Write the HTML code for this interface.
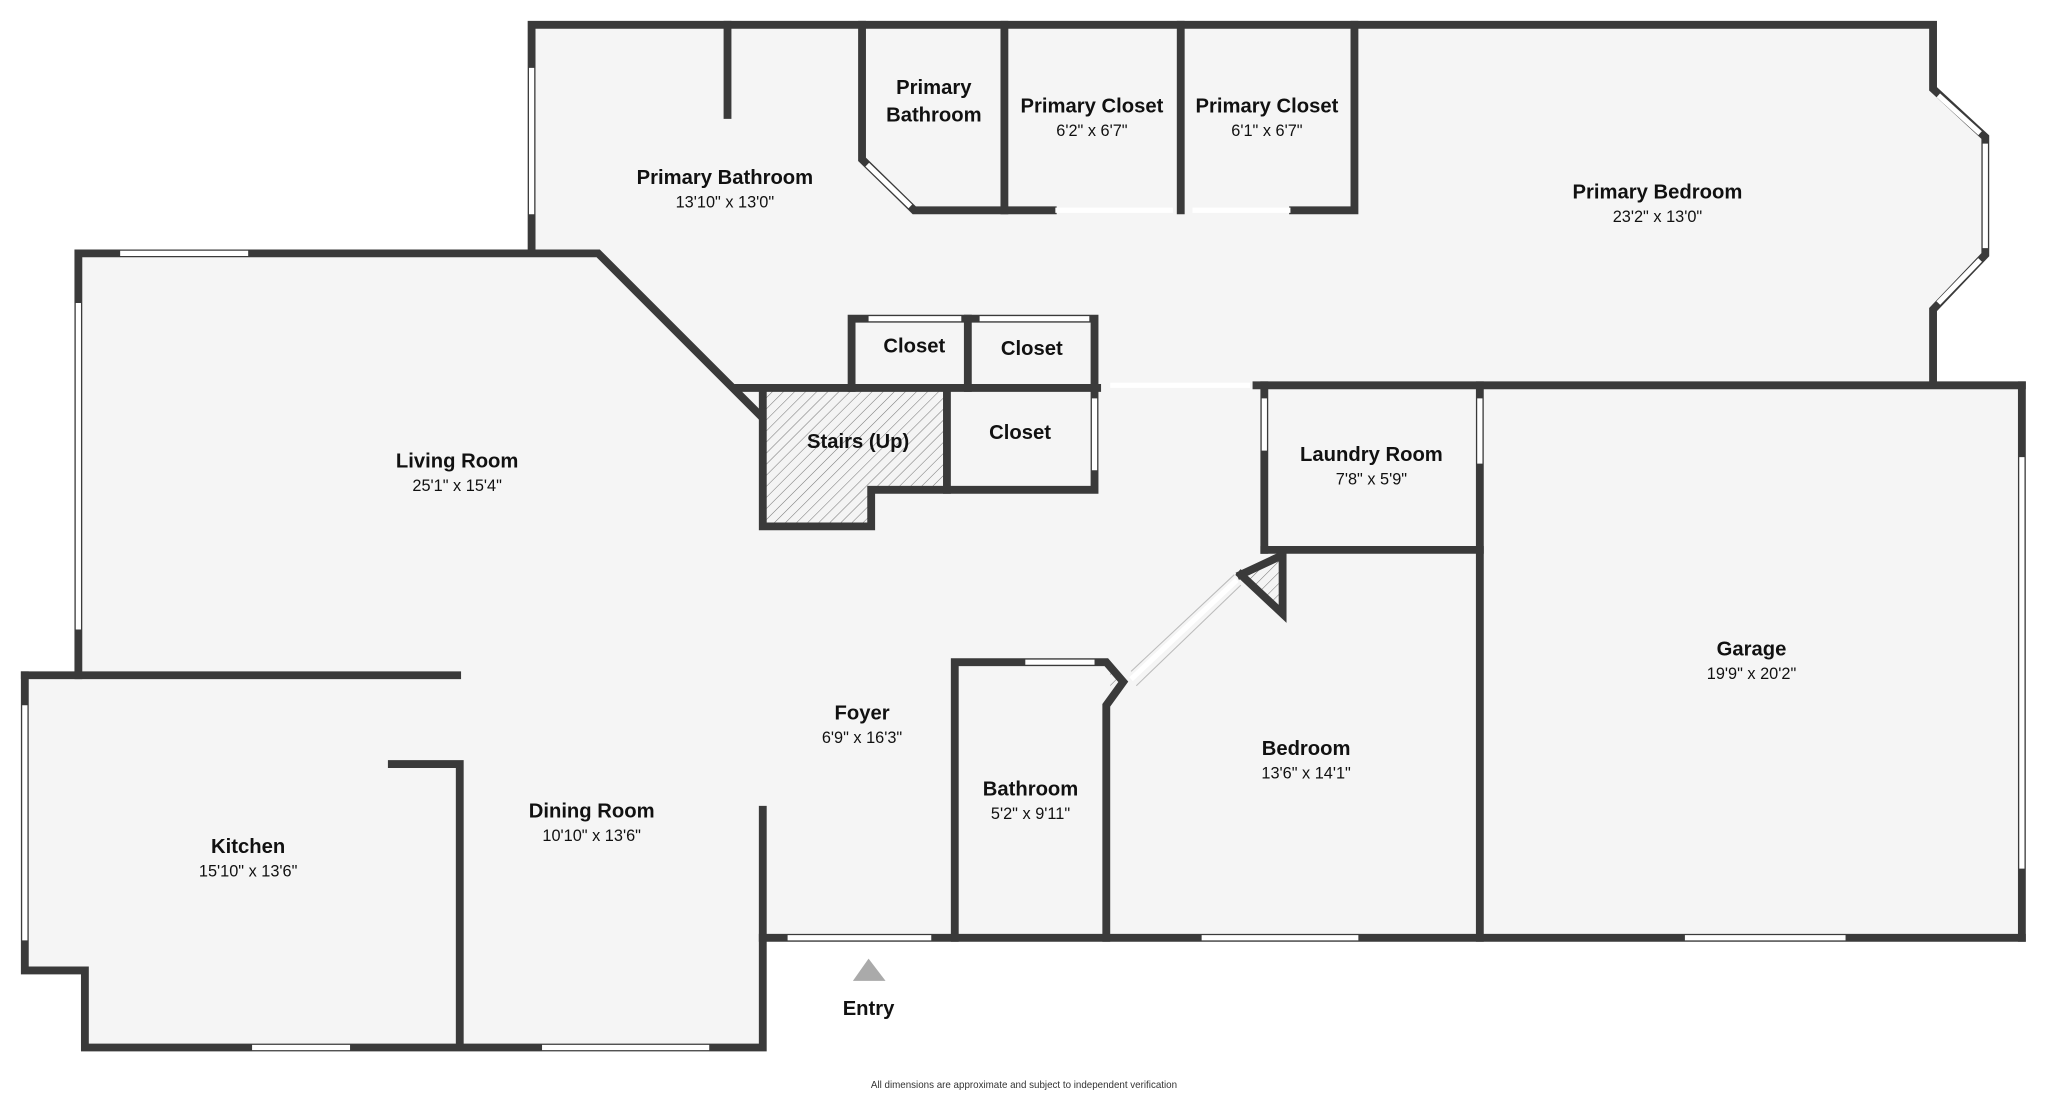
<!DOCTYPE html>
<html><head><meta charset="utf-8"><style>
html,body{margin:0;padding:0;background:#fff;width:2048px;height:1094px;overflow:hidden}
svg{display:block}
text{font-family:"Liberation Sans",sans-serif;fill:#111;text-anchor:middle}
.t{font-weight:bold;font-size:15.5px}
.d{font-size:12.5px}
</style></head><body>
<svg width="2048" height="1094" viewBox="0 0 1568 837.6" preserveAspectRatio="none">
<defs><pattern id="h" width="6" height="6" patternUnits="userSpaceOnUse" patternTransform="rotate(45)"><rect width="6" height="6" fill="#f4f4f4"/><line x1="0" y1="0" x2="0" y2="6" stroke="#777" stroke-width="0.8"/></pattern></defs>
<g fill="#f5f5f5">
<polygon points="407,19 1480,19 1480,68 1520,105 1520,195 1480,237 1480,295 1548,295 1548,718 584,718 584,802 65,802 65,743 19,743 19,517 60,517 60,194 407,194"/>
</g>
<polygon points="584,297 725,297 725,375 667,375 667,403 584,403" fill="url(#h)"/>
<polygon points="952,440 982,425 982,470" fill="url(#h)"/>
<polygon points="850,510 862,520 850,540" fill="url(#h)"/>
<g stroke="#3a3a3a" stroke-width="6" fill="none" stroke-linecap="square">
<!-- top suite -->
<polyline points="407,190 407,19 1480,19 1480,68 1520,105 1520,195 1480,237 1480,293"/>
<line x1="557" y1="19" x2="557" y2="88"/>
<polyline points="660,19 660,122 700,161 806,161"/>
<line x1="769" y1="19" x2="769" y2="161"/>
<line x1="904" y1="19" x2="904" y2="161"/>
<polyline points="990,161 1037,161 1037,19"/>
<!-- living -->
<polyline points="60,517 60,194 458,194 582,318"/>
<line x1="19" y1="517" x2="350" y2="517"/>
<polyline points="19,517 19,743 65,743 65,802 584,802 584,620"/>
<polyline points="300,585 352,585 352,800"/>
<!-- stairs/closets -->
<line x1="565" y1="297" x2="840" y2="297"/>
<polyline points="584,297 584,403 667,403 667,375 838,375 838,297"/>
<line x1="725" y1="297" x2="725" y2="375"/>
<polyline points="652,297 652,244 838,244 838,297"/>
<line x1="741" y1="244" x2="741" y2="297"/>
<!-- right block -->
<line x1="962" y1="295" x2="1548" y2="295"/>
<line x1="1548" y1="295" x2="1548" y2="718"/>
<line x1="968" y1="295" x2="968" y2="421"/>
<line x1="1133" y1="295" x2="1133" y2="718"/>
<line x1="968" y1="421" x2="1133" y2="421"/>
<polyline points="950,440 982,425 982,470 950,440"/>
<line x1="584" y1="718" x2="1548" y2="718"/>
<polyline points="731,718 731,507 847,507 860,522 847,540 847,718"/>
</g>
<!-- openings/windows (white) -->
<g stroke="#fff" stroke-width="4" fill="none">
<line x1="407" y1="52" x2="407" y2="164"/>
<line x1="92" y1="194" x2="190" y2="194"/>
<line x1="60" y1="232" x2="60" y2="482"/>
<line x1="19" y1="540" x2="19" y2="720"/>
<line x1="193" y1="802" x2="268" y2="802"/>
<line x1="415" y1="802" x2="543" y2="802"/>
<line x1="603" y1="718" x2="713" y2="718"/>
<line x1="920" y1="718" x2="1040" y2="718"/>
<line x1="1290" y1="718" x2="1413" y2="718"/>
<line x1="1548" y1="350" x2="1548" y2="665"/>
<line x1="785" y1="507" x2="838" y2="507"/>
<line x1="665" y1="244" x2="736" y2="244"/>
<line x1="750" y1="244" x2="834" y2="244"/>
<line x1="838" y1="305" x2="838" y2="360"/>
<line x1="850" y1="295" x2="957" y2="295"/>
<line x1="968" y1="305" x2="968" y2="345"/>
<line x1="1133" y1="305" x2="1133" y2="355"/>
<line x1="808" y1="161" x2="898" y2="161"/>
<line x1="913" y1="161" x2="988" y2="161"/>
<line x1="664" y1="126" x2="697" y2="158"/>
<line x1="1484" y1="73" x2="1516" y2="102"/>
<line x1="1520" y1="110" x2="1520" y2="190"/>
<line x1="1484" y1="232" x2="1516" y2="199"/>
<line x1="866" y1="520" x2="947" y2="444"/>
</g>
<g stroke="#bbb" stroke-width="0.8" fill="none">
<line x1="866" y1="514" x2="945" y2="440"/><line x1="870" y1="525" x2="950" y2="448"/>
</g>
<polygon points="653,751 678,751 665,734" fill="#aaa"/>
<text class="t" x="555" y="141">Primary Bathroom</text><text class="d" x="555" y="159">13'10" x 13'0"</text>
<text class="t" x="715" y="72">Primary</text><text class="t" x="715" y="93">Bathroom</text>
<text class="t" x="836" y="86">Primary Closet</text><text class="d" x="836" y="104">6'2" x 6'7"</text>
<text class="t" x="970" y="86">Primary Closet</text><text class="d" x="970" y="104">6'1" x 6'7"</text>
<text class="t" x="1269" y="152">Primary Bedroom</text><text class="d" x="1269" y="170">23'2" x 13'0"</text>
<text class="t" x="350" y="358">Living Room</text><text class="d" x="350" y="376">25'1" x 15'4"</text>
<text class="t" x="700" y="270">Closet</text>
<text class="t" x="790" y="272">Closet</text>
<text class="t" x="781" y="336">Closet</text>
<text class="t" x="657" y="343">Stairs (Up)</text>
<text class="t" x="1050" y="353">Laundry Room</text><text class="d" x="1050" y="371">7'8" x 5'9"</text>
<text class="t" x="1341" y="502">Garage</text><text class="d" x="1341" y="520">19'9" x 20'2"</text>
<text class="t" x="660" y="551">Foyer</text><text class="d" x="660" y="569">6'9" x 16'3"</text>
<text class="t" x="1000" y="578">Bedroom</text><text class="d" x="1000" y="596">13'6" x 14'1"</text>
<text class="t" x="789" y="609">Bathroom</text><text class="d" x="789" y="627">5'2" x 9'11"</text>
<text class="t" x="453" y="626">Dining Room</text><text class="d" x="453" y="644">10'10" x 13'6"</text>
<text class="t" x="190" y="653">Kitchen</text><text class="d" x="190" y="671">15'10" x 13'6"</text>
<text class="t" x="665" y="777">Entry</text>
<text x="784" y="833" style="font-size:7.5px;fill:#333">All dimensions are approximate and subject to independent verification</text>
</svg>
</body></html>
